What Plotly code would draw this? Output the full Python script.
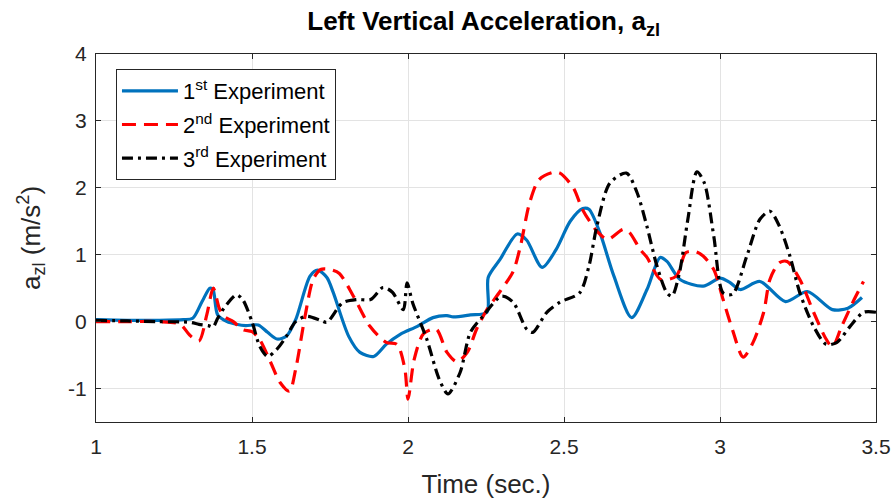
import plotly.graph_objects as go

# Experiment 1 (blue, solid)
t1 = [1.0, 1.1, 1.2, 1.28, 1.31, 1.34, 1.365, 1.375, 1.39, 1.42, 1.45, 1.48, 1.52, 1.55, 1.58, 1.61, 1.64,
      1.686, 1.71, 1.74, 1.76, 1.81, 1.846, 1.89, 1.93, 1.975, 2.03, 2.08, 2.125, 2.145, 2.2, 2.253, 2.257,
      2.295, 2.35, 2.38, 2.43, 2.475, 2.52, 2.56, 2.58, 2.615, 2.66, 2.717, 2.766, 2.808, 2.83, 2.872,
      2.946, 3.0, 3.03, 3.064, 3.128, 3.21, 3.28, 3.36, 3.41, 3.455]
a1 = [0.03, 0.02, 0.02, 0.03, 0.05, 0.3, 0.5, 0.48, 0.1, 0.0, -0.04, -0.06, -0.05, -0.16, -0.26, -0.22, 0.03,
      0.68, 0.77, 0.66, 0.44, -0.22, -0.46, -0.52, -0.34, -0.19, -0.07, 0.06, 0.09, 0.07, 0.1, 0.14, 0.66,
      0.93, 1.31, 1.22, 0.81, 1.08, 1.5, 1.69, 1.68, 1.33, 0.68, 0.06, 0.48, 0.96, 0.9, 0.63,
      0.53, 0.65, 0.59, 0.48, 0.6, 0.3, 0.45, 0.18, 0.2, 0.36]

# Experiment 2 (red, dashed)
t2 = [1.0, 1.1, 1.2, 1.27, 1.30, 1.33, 1.355, 1.376, 1.395, 1.41, 1.44, 1.47, 1.50, 1.525, 1.56, 1.59, 1.62,
      1.64, 1.67, 1.696, 1.72, 1.75, 1.78, 1.825, 1.878, 1.93, 1.965, 1.99, 2.0, 2.02, 2.05, 2.09, 2.125,
      2.157, 2.19, 2.22, 2.253, 2.295, 2.337, 2.36, 2.39, 2.42, 2.465, 2.487, 2.53, 2.56, 2.606, 2.64,
      2.69, 2.71, 2.744, 2.766, 2.81, 2.86, 2.89, 2.92, 2.946, 2.98, 3.01, 3.04, 3.074, 3.106, 3.14,
      3.16, 3.19, 3.215, 3.256, 3.30, 3.34, 3.36, 3.39, 3.43, 3.46]
a2 = [0.0, 0.0, 0.0, -0.04, -0.2, -0.29, 0.1, 0.5, 0.2, 0.08, 0.0, -0.12, -0.15, -0.27, -0.61, -0.91, -1.04,
      -0.71, 0.08, 0.63, 0.78, 0.78, 0.72, 0.38, -0.07, -0.31, -0.34, -0.71, -1.16, -0.56, -0.18, -0.11, -0.46,
      -0.6, -0.46, -0.11, 0.18, 0.45, 0.75, 1.12, 1.78, 2.12, 2.23, 2.22, 2.0, 1.67, 1.35, 1.23,
      1.38, 1.33, 1.08, 0.96, 0.63, 0.68, 1.03, 1.05, 0.98, 0.78, 0.33, -0.12, -0.53, -0.31, 0.14,
      0.63, 0.88, 0.9, 0.63, 0.14, -0.26, -0.38, -0.07, 0.33, 0.6]

# Experiment 3 (black, dash-dot)
t3 = [1.0, 1.1, 1.2, 1.3, 1.33, 1.36, 1.375, 1.39, 1.41, 1.45, 1.47, 1.5, 1.525, 1.55, 1.58, 1.61, 1.64,
      1.675, 1.72, 1.74, 1.79, 1.835, 1.88, 1.92, 1.95, 1.985, 1.997, 2.015, 2.06, 2.10, 2.128, 2.167,
      2.2, 2.24, 2.30, 2.337, 2.38, 2.40, 2.445, 2.487, 2.55, 2.58, 2.605, 2.647, 2.70, 2.734, 2.766,
      2.798, 2.83, 2.846, 2.87, 2.897, 2.926, 2.95, 2.98, 3.01, 3.04, 3.086, 3.128, 3.16, 3.19, 3.224,
      3.256, 3.30, 3.34, 3.375, 3.417, 3.46, 3.5]
a3 = [0.02, 0.01, 0.0, -0.01, -0.04, -0.06, -0.08, 0.05, 0.2, 0.4, 0.33, 0.0, -0.37, -0.52, -0.41, -0.22, 0.0,
      0.08, 0.02, -0.01, 0.28, 0.33, 0.33, 0.51, 0.44, 0.18, 0.58, 0.28, -0.26, -0.86, -1.08, -0.76,
      -0.16, 0.08, 0.38, 0.29, -0.11, -0.16, 0.14, 0.29, 0.43, 0.83, 1.42, 2.07, 2.22, 1.93, 1.42,
      0.83, 0.43, 0.38, 0.73, 1.53, 2.24, 2.07, 1.28, 0.43, 0.41, 0.98, 1.53, 1.65, 1.43, 0.98,
      0.43, -0.07, -0.34, -0.31, -0.07, 0.14, 0.14]

x_ticks = [1, 1.5, 2, 2.5, 3, 3.5]
x_tick_labels = ["1", "1.5", "2", "2.5", "3", "3.5"]
y_ticks = [-1, 0, 1, 2, 3, 4]
y_tick_labels = ["-1", "0", "1", "2", "3", "4"]
series_names = ["1<sup>st</sup> Experiment", "2<sup>nd</sup> Experiment", "3<sup>rd</sup> Experiment"]

FONT = "Liberation Sans, Arial, sans-serif"
TXT = "#262626"

fig = go.Figure()
fig.add_trace(go.Scatter(x=t1, y=a1, mode="lines", name=series_names[0], legendgroup="g1",
                         line=dict(color="#0072BD", width=3.2, shape="spline", smoothing=0.8)))
fig.add_trace(go.Scatter(x=t2, y=a2, mode="lines", name=series_names[1], legendgroup="g2",
                         line=dict(color="#FF0000", width=3.2, dash="14px,8px", shape="spline", smoothing=0.8)))
fig.add_trace(go.Scatter(x=t3, y=a3, mode="lines", name=series_names[2], legendgroup="g3",
                         line=dict(color="#000000", width=3.2, dash="11px,5px,3px,5px", shape="spline",
                                   smoothing=0.8)))

axis_common = dict(showgrid=True, gridcolor="#E3E3E3", gridwidth=1, zeroline=False,
                   showline=True, linecolor="#262626", linewidth=1, mirror="ticks",
                   ticks="inside", ticklen=5, tickcolor="#262626", automargin=False,
                   tickfont=dict(family=FONT, size=21, color=TXT))

fig.update_layout(
    width=894, height=501,
    margin=dict(l=96, r=18, t=54, b=79),
    paper_bgcolor="white", plot_bgcolor="white",
    title=dict(text="<b>Left Vertical Acceleration, a<sub>zl</sub></b>", x=0.541, xanchor="center",
               y=0.958, yanchor="middle", font=dict(family=FONT, size=26, color="#000000")),
    xaxis=dict(range=[1, 3.5], tickvals=x_ticks, ticktext=x_tick_labels, ticklabelstandoff=6,
               title=dict(text="Time (sec.)", font=dict(family=FONT, size=26, color=TXT), standoff=17),
               **axis_common),
    yaxis=dict(range=[-1.5, 4], tickvals=y_ticks, ticktext=y_tick_labels, ticklabelstandoff=4,
               title=dict(text="a<sub>zl</sub> (m/s<sup>2</sup>)", font=dict(family=FONT, size=26, color=TXT),
                          standoff=20),
               **axis_common),
    legend=dict(x=0.0256, y=0.959, xanchor="left", yanchor="top",
                bgcolor="white", bordercolor="#262626", borderwidth=1,
                font=dict(family=FONT, size=22, color="#000000"),
                itemwidth=56, tracegroupgap=2),
    showlegend=True,
)

fig.write_html("out.html")
